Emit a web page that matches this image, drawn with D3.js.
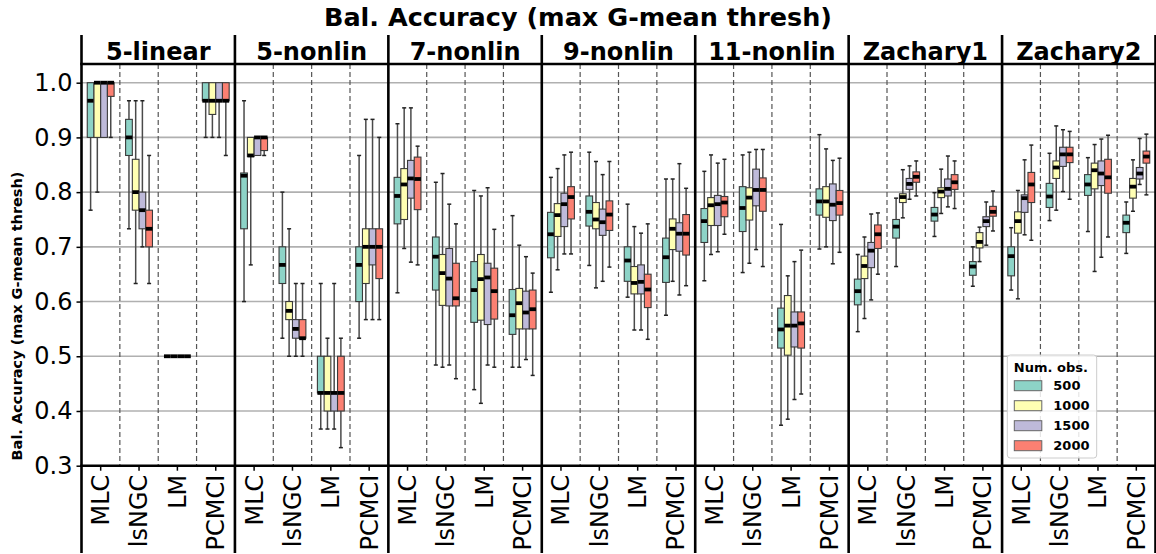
<!DOCTYPE html>
<html>
<head>
<meta charset="utf-8">
<script src="https://cdn.jsdelivr.net/npm/d3@7"></script>
<style>
body { margin: 0; background: #fff; }
text { font-family: "DejaVu Sans", sans-serif; }
</style>
</head>
<body>
<svg id="chart" width="1156" height="554"></svg>
<script>
var panelNames = ["5-linear", "5-nonlin", "7-nonlin", "9-nonlin", "11-nonlin", "Zachary1", "Zachary2"];
var methods = ["MLC", "lsNGC", "LM", "PCMCI"];
var hues = ["500", "1000", "1500", "2000"];
var hueColors = ["#8dd3c7", "#ffffb3", "#bebada", "#fb8072"];
var yTicks = [0.3, 0.4, 0.5, 0.6, 0.7, 0.8, 0.9, 1.0];

// each row: [whisker low, q1, median, q3, whisker high], method-major then hue
var linear5 = [
	[0.767, 0.9, 0.967, 1.0, 1.0], [0.8, 0.9, 1.0, 1.0, 1.0], [0.9, 0.9, 1.0, 1.0, 1.0], [0.9, 0.975, 1.0, 1.0, 1.0],
	[0.733, 0.867, 0.9, 0.933, 0.967], [0.633, 0.767, 0.8, 0.86, 0.967], [0.7, 0.733, 0.767, 0.8, 0.967], [0.633, 0.7, 0.733, 0.767, 0.867],
	[0.5, 0.5, 0.5, 0.5, 0.5], [0.5, 0.5, 0.5, 0.5, 0.5], [0.5, 0.5, 0.5, 0.5, 0.5], [0.5, 0.5, 0.5, 0.5, 0.5],
	[0.9, 0.967, 0.967, 1.0, 1.0], [0.9, 0.942, 0.967, 1.0, 1.0], [0.9, 0.967, 0.967, 1.0, 1.0], [0.867, 0.967, 0.967, 1.0, 1.0]
];
var nonlin5 = [
	[0.6, 0.733, 0.83, 0.835, 0.967], [0.667, 0.865, 0.867, 0.9, 0.9], [0.867, 0.867, 0.9, 0.9, 0.9], [0.867, 0.876, 0.9, 0.9, 0.9],
	[0.533, 0.633, 0.667, 0.7, 0.8], [0.5, 0.567, 0.583, 0.6, 0.733], [0.5, 0.533, 0.55, 0.567, 0.633], [0.5, 0.533, 0.533, 0.567, 0.633],
	[0.367, 0.433, 0.433, 0.5, 0.633], [0.367, 0.4, 0.433, 0.5, 0.533], [0.367, 0.4, 0.433, 0.433, 0.633], [0.333, 0.4, 0.433, 0.5, 0.533],
	[0.533, 0.6, 0.667, 0.7, 0.867], [0.567, 0.633, 0.7, 0.733, 0.933], [0.567, 0.667, 0.7, 0.733, 0.933], [0.567, 0.642, 0.7, 0.733, 0.9]
];
var nonlin7 = [
	[0.616, 0.742, 0.793, 0.827, 0.925], [0.697, 0.75, 0.814, 0.843, 0.954], [0.672, 0.789, 0.825, 0.858, 0.954], [0.667, 0.768, 0.824, 0.864, 0.884],
	[0.484, 0.621, 0.682, 0.718, 0.818], [0.48, 0.593, 0.652, 0.686, 0.834], [0.484, 0.592, 0.642, 0.697, 0.778], [0.459, 0.592, 0.606, 0.67, 0.742],
	[0.439, 0.562, 0.621, 0.673, 0.803], [0.414, 0.566, 0.641, 0.686, 0.793], [0.484, 0.558, 0.644, 0.67, 0.808], [0.48, 0.568, 0.619, 0.661, 0.732],
	[0.48, 0.54, 0.575, 0.622, 0.757], [0.48, 0.55, 0.597, 0.624, 0.703], [0.494, 0.55, 0.58, 0.619, 0.682], [0.465, 0.55, 0.586, 0.621, 0.652]
];
var nonlin9 = [
	[0.617, 0.68, 0.723, 0.763, 0.827], [0.658, 0.719, 0.758, 0.779, 0.843], [0.687, 0.737, 0.778, 0.798, 0.868], [0.687, 0.751, 0.791, 0.81, 0.873],
	[0.666, 0.738, 0.764, 0.793, 0.873], [0.625, 0.733, 0.75, 0.781, 0.856], [0.637, 0.721, 0.745, 0.769, 0.832], [0.663, 0.73, 0.759, 0.784, 0.856],
	[0.608, 0.637, 0.675, 0.7, 0.778], [0.548, 0.614, 0.634, 0.664, 0.737], [0.548, 0.614, 0.636, 0.667, 0.725], [0.531, 0.589, 0.622, 0.65, 0.742],
	[0.575, 0.635, 0.681, 0.716, 0.824], [0.637, 0.695, 0.733, 0.751, 0.824], [0.612, 0.692, 0.724, 0.744, 0.852], [0.629, 0.685, 0.724, 0.759, 0.807]
];
var nonlin11 = [
	[0.638, 0.708, 0.747, 0.77, 0.838], [0.686, 0.739, 0.776, 0.79, 0.868], [0.691, 0.739, 0.778, 0.794, 0.853], [0.723, 0.755, 0.781, 0.792, 0.86],
	[0.653, 0.728, 0.771, 0.81, 0.868], [0.67, 0.749, 0.79, 0.808, 0.873], [0.695, 0.775, 0.804, 0.842, 0.878], [0.664, 0.765, 0.804, 0.826, 0.878],
	[0.374, 0.515, 0.549, 0.588, 0.741], [0.385, 0.502, 0.556, 0.611, 0.647], [0.421, 0.517, 0.556, 0.581, 0.673], [0.431, 0.515, 0.56, 0.581, 0.694],
	[0.696, 0.758, 0.783, 0.806, 0.905], [0.7, 0.754, 0.783, 0.81, 0.879], [0.669, 0.748, 0.777, 0.815, 0.858], [0.69, 0.758, 0.78, 0.803, 0.862]
];
var zachary1 = [
	[0.545, 0.594, 0.619, 0.641, 0.686], [0.569, 0.642, 0.665, 0.683, 0.718], [0.603, 0.662, 0.693, 0.708, 0.76], [0.65, 0.697, 0.723, 0.74, 0.762],
	[0.664, 0.716, 0.737, 0.75, 0.789], [0.753, 0.781, 0.791, 0.797, 0.841], [0.787, 0.805, 0.815, 0.825, 0.848], [0.793, 0.818, 0.828, 0.837, 0.857],
	[0.719, 0.747, 0.759, 0.772, 0.799], [0.761, 0.79, 0.801, 0.808, 0.842], [0.773, 0.793, 0.806, 0.824, 0.866], [0.77, 0.805, 0.818, 0.832, 0.857],
	[0.628, 0.648, 0.664, 0.673, 0.7], [0.673, 0.698, 0.709, 0.726, 0.736], [0.703, 0.737, 0.747, 0.755, 0.782], [0.729, 0.756, 0.764, 0.774, 0.802]
];
var zachary2 = [
	[0.621, 0.647, 0.683, 0.7, 0.735], [0.605, 0.725, 0.747, 0.764, 0.803], [0.722, 0.763, 0.789, 0.795, 0.859], [0.712, 0.781, 0.814, 0.836, 0.886],
	[0.748, 0.772, 0.792, 0.816, 0.871], [0.767, 0.825, 0.845, 0.857, 0.921], [0.801, 0.847, 0.869, 0.882, 0.914], [0.787, 0.854, 0.869, 0.882, 0.911],
	[0.728, 0.794, 0.814, 0.832, 0.863], [0.655, 0.806, 0.84, 0.853, 0.887], [0.681, 0.812, 0.834, 0.857, 0.897], [0.718, 0.798, 0.827, 0.86, 0.904],
	[0.688, 0.726, 0.744, 0.758, 0.782], [0.765, 0.789, 0.81, 0.825, 0.859], [0.814, 0.824, 0.834, 0.845, 0.898], [0.795, 0.853, 0.865, 0.875, 0.906]
];
var panelData = [linear5, nonlin5, nonlin7, nonlin9, nonlin11, zachary1, zachary2];

var svg = d3.select("#chart");
var left = 81.5, right = 1155.5, headTop = 35, plotTop = 64, plotBottom = 465.7, frameBottom = 553;

var y = d3.scaleLinear().domain([0.3, 1.0]).range([plotBottom, 82.7]);
var panelX = d3.scaleBand().domain(panelNames).range([left, right]);
var methodX = d3.scaleBand().domain(methods).range([0, panelX.bandwidth()]);
var groupW = methodX.bandwidth() * 0.7;
var hueX = d3.scaleBand().domain(hues).range([-groupW / 2, groupW / 2]);
var boxW = hueX.bandwidth();

// grid
svg.append("g").selectAll("line").data(yTicks).enter().append("line")
	.attr("x1", left).attr("x2", right)
	.attr("y1", function(d) { return y(d); }).attr("y2", function(d) { return y(d); })
	.attr("stroke", "#b0b0b0").attr("stroke-width", 1.6);

panelNames.forEach(function(name, p) {
	var px = panelX(name);
	var g = svg.append("g").attr("transform", "translate(" + px + ",0)");

	// dashed separators between methods
	g.selectAll(".sep").data(methods.slice(1)).enter().append("line")
		.attr("class", "sep")
		.attr("x1", function(d) { return methodX(d); }).attr("x2", function(d) { return methodX(d); })
		.attr("y1", plotTop).attr("y2", plotBottom)
		.attr("stroke", "#555").attr("stroke-width", 1.2).attr("stroke-dasharray", "5,3");

	var rows = panelData[p].map(function(v, i) {
		var m = methods[Math.floor(i / 4)], h = hues[i % 4];
		return { cx: methodX(m) + methodX.bandwidth() / 2 + hueX(h) + boxW / 2, color: hueColors[i % 4], v: v };
	});

	var box = g.selectAll(".box").data(rows).enter().append("g").attr("class", "box");
	box.append("line")
		.attr("x1", function(d) { return d.cx; }).attr("x2", function(d) { return d.cx; })
		.attr("y1", function(d) { return y(d.v[0]); }).attr("y2", function(d) { return y(d.v[4]); })
		.attr("stroke", "#4a4a4a").attr("stroke-width", 1.5);
	[0, 4].forEach(function(k) {
		box.filter(function(d) { return d.v[k] !== (k === 0 ? d.v[1] : d.v[3]); })
			.append("line")
			.attr("x1", function(d) { return d.cx - boxW * 0.3; }).attr("x2", function(d) { return d.cx + boxW * 0.3; })
			.attr("y1", function(d) { return y(d.v[k]); }).attr("y2", function(d) { return y(d.v[k]); })
			.attr("stroke", "#222").attr("stroke-width", 1.5);
	});
	box.append("rect")
		.attr("x", function(d) { return d.cx - boxW / 2; })
		.attr("width", boxW)
		.attr("y", function(d) { return y(d.v[3]); })
		.attr("height", function(d) { return y(d.v[1]) - y(d.v[3]); })
		.attr("fill", function(d) { return d.color; })
		.attr("stroke", "#3a3a3a").attr("stroke-width", 1.1);
	box.append("line")
		.attr("x1", function(d) { return d.cx - boxW / 2; }).attr("x2", function(d) { return d.cx + boxW / 2; })
		.attr("y1", function(d) { return y(d.v[2]); }).attr("y2", function(d) { return y(d.v[2]); })
		.attr("stroke", "#000").attr("stroke-width", 3.8);

	// x axis for this panel
	var xa = d3.scaleBand().domain(methods).range([px, px + panelX.bandwidth()]);
	var ax = svg.append("g").attr("transform", "translate(0," + plotBottom + ")")
		.call(d3.axisBottom(xa).tickSize(5).tickSizeOuter(0));
	ax.select(".domain").remove();
	ax.selectAll(".tick line").attr("stroke", "#000").attr("stroke-width", 1.5);
	ax.selectAll(".tick text")
		.attr("font-size", 24).attr("fill", "#000")
		.attr("text-anchor", "end")
		.attr("transform", "rotate(-90)")
		.attr("x", -9).attr("y", 0).attr("dy", "0.35em");

	// panel header
	svg.append("text")
		.attr("x", px + panelX.bandwidth() / 2).attr("y", 60)
		.attr("text-anchor", "middle").attr("font-size", 24).attr("font-weight", "bold")
		.text(name);
});

// y axis
var ay = svg.append("g").attr("transform", "translate(" + left + ",0)")
	.call(d3.axisLeft(y).tickValues(yTicks).tickFormat(d3.format(".1f")).tickSize(5));
ay.select(".domain").remove();
ay.selectAll(".tick line").attr("stroke", "#000").attr("stroke-width", 1.5);
ay.selectAll(".tick text").attr("font-size", 24).attr("fill", "#000").attr("x", -9);

// frame lines
var edges = panelNames.map(function(d) { return panelX(d); }).concat([right]);
svg.append("g").selectAll("line").data(edges).enter().append("line")
	.attr("x1", function(d) { return d; }).attr("x2", function(d) { return d; })
	.attr("y1", headTop).attr("y2", frameBottom)
	.attr("stroke", "#000").attr("stroke-width", 2.6);
[plotTop, plotBottom].forEach(function(yy) {
	svg.append("line").attr("x1", left - 1.3).attr("x2", right + 1.3)
		.attr("y1", yy).attr("y2", yy)
		.attr("stroke", "#000").attr("stroke-width", 2.6);
});

// titles
svg.append("text").attr("x", 578).attr("y", 26)
	.attr("text-anchor", "middle").attr("font-size", 25.5).attr("font-weight", "bold")
	.text("Bal. Accuracy (max G-mean thresh)");
svg.append("text").attr("transform", "translate(22,316) rotate(-90)")
	.attr("text-anchor", "middle").attr("font-size", 14.5).attr("font-weight", "bold")
	.text("Bal. Accuracy (max G-mean thresh)");

// legend
var lg = svg.append("g").attr("transform", "translate(1007.3,355)");
lg.append("rect").attr("width", 89.4).attr("height", 103).attr("rx", 3)
	.attr("fill", "#fff").attr("fill-opacity", 0.85).attr("stroke", "#ccc").attr("stroke-width", 1);
lg.append("text").attr("x", 6.5).attr("y", 16.7).attr("font-size", 13).attr("font-weight", "bold").text("Num. obs.");
var le = lg.selectAll(".le").data(hues).enter().append("g").attr("class", "le")
	.attr("transform", function(d, i) { return "translate(0," + (25.7 + i * 20) + ")"; });
le.append("rect").attr("x", 7).attr("width", 27.5).attr("height", 10)
	.attr("fill", function(d, i) { return hueColors[i]; })
	.attr("stroke", "#666").attr("stroke-width", 1);
le.append("text").attr("x", 46).attr("y", 5).attr("dy", "0.35em")
	.attr("font-size", 13).attr("font-weight", "bold").text(function(d) { return d; });
</script>
</body>
</html>
